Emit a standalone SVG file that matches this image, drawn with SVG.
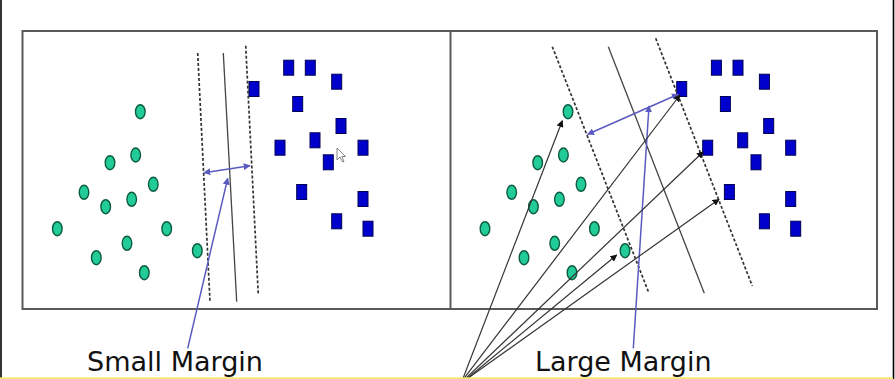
<svg xmlns="http://www.w3.org/2000/svg" width="895" height="379" viewBox="0 0 895 379">
<style>
.frame{fill:none;stroke:#5a5a5a;stroke-width:2}
.dash{stroke:#333;stroke-width:1.7;stroke-dasharray:3 2;fill:none}
.solid{stroke:#444;stroke-width:1.3;fill:none}
.pt{fill:#22cc99;stroke:#0d5c40;stroke-width:1.4}
.sq{fill:#0000cc;stroke:#000055;stroke-width:1}
.blue{stroke:#5a5ac0;stroke-width:1.5;fill:none}
.blk{stroke:#333;stroke-width:1.2;fill:none}
.lbl{font-family:"DejaVu Sans",Verdana,sans-serif;font-size:26px;fill:#111}
</style>
<defs>
<marker id="ab" viewBox="0 0 10 10" refX="9" refY="5" markerWidth="7" markerHeight="7" markerUnits="userSpaceOnUse" orient="auto-start-reverse"><path d="M0,0 L10,5 L0,10 z" fill="#5a5ac0"/></marker>
<marker id="ak" viewBox="0 0 10 10" refX="9" refY="5" markerWidth="7" markerHeight="7" markerUnits="userSpaceOnUse" orient="auto"><path d="M0,0 L10,5 L0,10 z" fill="#111"/></marker>
<g id="cls">
<ellipse class="pt" cx="140.3" cy="111.7" rx="4.8" ry="7"/>
<ellipse class="pt" cx="135.7" cy="155" rx="4.8" ry="7"/>
<ellipse class="pt" cx="110" cy="162.7" rx="4.8" ry="7"/>
<ellipse class="pt" cx="153.3" cy="184.3" rx="4.8" ry="7"/>
<ellipse class="pt" cx="84" cy="192.3" rx="4.8" ry="7"/>
<ellipse class="pt" cx="131.7" cy="199.3" rx="4.8" ry="7"/>
<ellipse class="pt" cx="105.7" cy="206.7" rx="4.8" ry="7"/>
<ellipse class="pt" cx="57.3" cy="228.7" rx="4.8" ry="7"/>
<ellipse class="pt" cx="166.7" cy="228.7" rx="4.8" ry="7"/>
<ellipse class="pt" cx="127" cy="243.3" rx="4.8" ry="7"/>
<ellipse class="pt" cx="96.3" cy="257.7" rx="4.8" ry="7"/>
<ellipse class="pt" cx="197.3" cy="250.7" rx="4.8" ry="7"/>
<ellipse class="pt" cx="144.3" cy="272.7" rx="4.8" ry="7"/>
<rect class="sq" x="283.7" y="60.2" width="10" height="15"/>
<rect class="sq" x="305.3" y="60.2" width="10" height="15"/>
<rect class="sq" x="331.7" y="74.2" width="10" height="15"/>
<rect class="sq" x="249" y="81.5" width="10" height="15"/>
<rect class="sq" x="292.7" y="96.5" width="10" height="15"/>
<rect class="sq" x="336" y="118.5" width="10" height="15"/>
<rect class="sq" x="310" y="132.8" width="10" height="15"/>
<rect class="sq" x="275" y="140.2" width="10" height="15"/>
<rect class="sq" x="358" y="140.2" width="10" height="15"/>
<rect class="sq" x="323.3" y="154.8" width="10" height="15"/>
<rect class="sq" x="296.7" y="184.5" width="10" height="15"/>
<rect class="sq" x="358" y="191.5" width="10" height="15"/>
<rect class="sq" x="331.7" y="213.8" width="10" height="15"/>
<rect class="sq" x="363" y="221.2" width="10" height="15"/>
</g>
</defs>
<rect width="895" height="379" fill="#fff"/>
<line x1="1" y1="0" x2="1" y2="379" stroke="#000" stroke-width="1.6"/>
<line x1="893.5" y1="0" x2="893.5" y2="379" stroke="#000" stroke-width="1.6"/>
<g id="frame">
<rect class="frame" x="22.5" y="31" width="854.5" height="278"/>
<line class="frame" x1="450.5" y1="31" x2="450.5" y2="309"/>
</g>
<g id="left-panel">
<use href="#cls"/>
<line class="dash" x1="197.7" y1="53" x2="210" y2="301.7"/>
<line class="solid" x1="223.3" y1="53" x2="236.7" y2="301.7"/>
<line class="dash" x1="245.7" y1="45.7" x2="258.3" y2="295"/>
<path d="M337,148 L337,160 L340,157 L342.5,162 L344,161.3 L341.8,156.5 L345.5,156.5 z" fill="#fff" stroke="#666" stroke-width="0.8"/>
</g>
<g id="right-panel">
<use href="#cls" transform="translate(427.7,0)"/>
<line class="dash" x1="552.3" y1="46.7" x2="649" y2="293.3"/>
<line class="solid" x1="608.3" y1="46.7" x2="704.3" y2="293.3"/>
<line class="dash" x1="655.7" y1="38.3" x2="752.3" y2="286"/>
</g>
<g id="connectors">
<line class="blue" x1="204" y1="172.7" x2="250" y2="165.7" marker-start="url(#ab)" marker-end="url(#ab)"/>
<line class="blue" x1="187.7" y1="348.3" x2="227.7" y2="178.3" marker-end="url(#ab)"/>
<line class="blue" x1="587.7" y1="134.3" x2="678.3" y2="94.3" marker-start="url(#ab)" marker-end="url(#ab)"/>
<line class="blue" x1="633.3" y1="348.3" x2="649" y2="106" marker-end="url(#ab)"/>
<line class="blk" x1="462" y1="381" x2="562.3" y2="120.7" marker-end="url(#ak)"/>
<line class="blk" x1="462" y1="381" x2="680" y2="95" marker-end="url(#ak)"/>
<line class="blk" x1="463" y1="381" x2="703.3" y2="151.7" marker-end="url(#ak)"/>
<line class="blk" x1="464" y1="381" x2="719" y2="199.3" marker-end="url(#ak)"/>
<line class="blk" x1="464" y1="381" x2="616.7" y2="255" marker-end="url(#ak)"/>
</g>
<g id="labels">
<text class="lbl" x="87" y="371" textLength="176" lengthAdjust="spacingAndGlyphs">Small Margin</text>
<text class="lbl" x="535" y="371" textLength="176.5" lengthAdjust="spacingAndGlyphs">Large Margin</text>
</g>
<rect x="0" y="377.3" width="893" height="1.7" fill="#f7e870"/>
</svg>
